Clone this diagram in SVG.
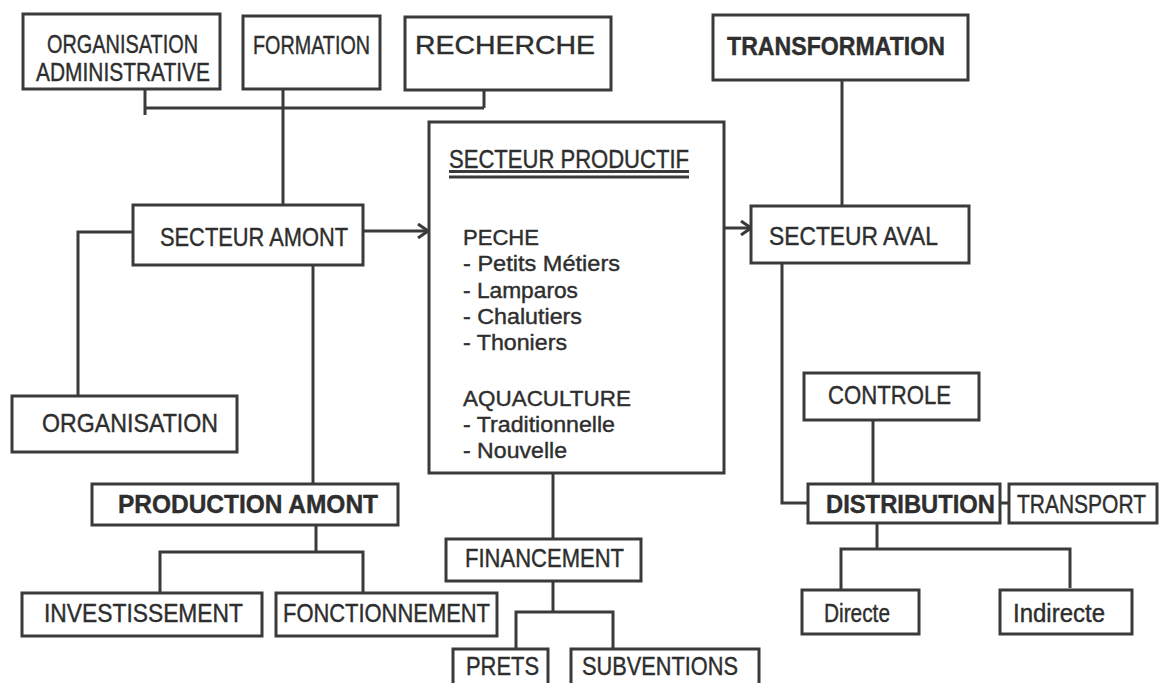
<svg xmlns="http://www.w3.org/2000/svg" width="1161" height="683" viewBox="0 0 1161 683">
<style>
.box{fill:#fff;stroke:#3a3a3a;stroke-width:3}
.ln{fill:none;stroke:#3a3a3a;stroke-width:3}
.t{font-family:"Liberation Sans",Arial,sans-serif;fill:#2e2e2e;stroke:#2e2e2e;stroke-width:0.4;font-size:25px}
.b{font-weight:bold}
.s{font-size:22px}
</style>
<defs>
<marker id="arr" viewBox="0 0 12 16" refX="11" refY="8" markerWidth="12" markerHeight="16" markerUnits="userSpaceOnUse" orient="auto">
<path d="M1,1 L11,8 L1,15" fill="none" stroke="#3a3a3a" stroke-width="3"/>
</marker>
</defs>
<rect width="1161" height="683" fill="#fff"/>
<g id="connectors">
<path class="ln" d="M145 89 V115 M145 108 H484 M484 90 V108 M283 89 V205"/>
<path class="ln" d="M842 80 V206"/>
<path class="ln" d="M133 232 H78 V396"/>
<path class="ln" d="M313 265 V484"/>
<path class="ln" d="M363 231 H428" marker-end="url(#arr)"/>
<path class="ln" d="M724 228 H751" marker-end="url(#arr)"/>
<path class="ln" d="M316 525 V552 M160 593 V552 H363 V593"/>
<path class="ln" d="M553 473 V539"/>
<path class="ln" d="M553 581 V612 M516 649 V612 H613 V649"/>
<path class="ln" d="M782 263 V503 H808"/>
<path class="ln" d="M873 420 V484"/>
<path class="ln" d="M1000 503 H1009"/>
<path class="ln" d="M877 523 V549 M841 590 V549 H1070 V588"/>
</g>
<g id="org-admin"><rect class="box" x="23" y="14" width="197" height="75"/>
<text class="t" x="47" y="53" font-size="23" textLength="151" lengthAdjust="spacingAndGlyphs">ORGANISATION</text>
<text class="t" x="36" y="81" textLength="174" lengthAdjust="spacingAndGlyphs">ADMINISTRATIVE</text></g>
<g id="formation"><rect class="box" x="243" y="16" width="137" height="73"/>
<text class="t" x="253" y="54" textLength="117" lengthAdjust="spacingAndGlyphs">FORMATION</text></g>
<g id="recherche"><rect class="box" x="405" y="17" width="206" height="73"/>
<text class="t" x="415" y="54" textLength="180" lengthAdjust="spacingAndGlyphs">RECHERCHE</text></g>
<g id="transformation"><rect class="box" x="713" y="15" width="255" height="65"/>
<text class="t b" x="727" y="55" textLength="218" lengthAdjust="spacingAndGlyphs">TRANSFORMATION</text></g>
<g id="secteur-amont"><rect class="box" x="133" y="205" width="230" height="60"/>
<text class="t" x="160" y="246" font-size="26" textLength="188" lengthAdjust="spacingAndGlyphs">SECTEUR AMONT</text></g>
<g id="organisation"><rect class="box" x="12" y="396" width="225" height="56"/>
<text class="t" x="42" y="432" textLength="176" lengthAdjust="spacingAndGlyphs">ORGANISATION</text></g>
<g id="secteur-productif"><rect class="box" x="429" y="122" width="295" height="351"/>
<text class="t" x="449" y="168" font-size="23" textLength="240" lengthAdjust="spacingAndGlyphs">SECTEUR PRODUCTIF</text>
<path class="ln" d="M449 171.5 H689 M449 177 H689" stroke-width="2.5"/>
<text class="t s" x="463" y="245" textLength="76" lengthAdjust="spacingAndGlyphs">PECHE</text>
<text class="t s" x="463" y="271" textLength="157" lengthAdjust="spacingAndGlyphs">- Petits Métiers</text>
<text class="t s" x="463" y="298" textLength="115" lengthAdjust="spacingAndGlyphs">- Lamparos</text>
<text class="t s" x="463" y="324" textLength="119" lengthAdjust="spacingAndGlyphs">- Chalutiers</text>
<text class="t s" x="463" y="350" textLength="104" lengthAdjust="spacingAndGlyphs">- Thoniers</text>
<text class="t s" x="463" y="406" textLength="168" lengthAdjust="spacingAndGlyphs">AQUACULTURE</text>
<text class="t s" x="463" y="432" textLength="152" lengthAdjust="spacingAndGlyphs">- Traditionnelle</text>
<text class="t s" x="463" y="458" textLength="104" lengthAdjust="spacingAndGlyphs">- Nouvelle</text></g>
<g id="secteur-aval"><rect class="box" x="751" y="206" width="218" height="57"/>
<text class="t" x="769" y="245" textLength="169" lengthAdjust="spacingAndGlyphs">SECTEUR AVAL</text></g>
<g id="controle"><rect class="box" x="804" y="373" width="175" height="47"/>
<text class="t" x="828" y="404" font-size="24" textLength="123" lengthAdjust="spacingAndGlyphs">CONTROLE</text></g>
<g id="production-amont"><rect class="box" x="92" y="484" width="306" height="41"/>
<text class="t b" x="118" y="513" textLength="260" lengthAdjust="spacingAndGlyphs">PRODUCTION AMONT</text></g>
<g id="distribution"><rect class="box" x="808" y="484" width="192" height="39"/>
<text class="t b" x="826" y="513" textLength="169" lengthAdjust="spacingAndGlyphs">DISTRIBUTION</text></g>
<g id="transport"><rect class="box" x="1009" y="484" width="148" height="39"/>
<text class="t" x="1017" y="513" font-size="21" textLength="129" lengthAdjust="spacingAndGlyphs">TRANSPORT</text></g>
<g id="investissement"><rect class="box" x="22" y="593" width="240" height="43"/>
<text class="t" x="44" y="622" textLength="199" lengthAdjust="spacingAndGlyphs">INVESTISSEMENT</text></g>
<g id="fonctionnement"><rect class="box" x="276" y="593" width="221" height="43"/>
<text class="t" x="283" y="622" textLength="207" lengthAdjust="spacingAndGlyphs">FONCTIONNEMENT</text></g>
<g id="financement"><rect class="box" x="446" y="539" width="195" height="42"/>
<text class="t" x="465" y="567" font-size="24" textLength="159" lengthAdjust="spacingAndGlyphs">FINANCEMENT</text></g>
<g id="prets"><rect class="box" x="453" y="649" width="95" height="45"/>
<text class="t" x="466" y="675" textLength="73" lengthAdjust="spacingAndGlyphs">PRETS</text></g>
<g id="subventions"><rect class="box" x="571" y="649" width="188" height="45"/>
<text class="t" x="582" y="675" textLength="156" lengthAdjust="spacingAndGlyphs">SUBVENTIONS</text></g>
<g id="directe"><rect class="box" x="802" y="590" width="117" height="44"/>
<text class="t" x="824" y="622" font-size="21" textLength="66" lengthAdjust="spacingAndGlyphs">Directe</text></g>
<g id="indirecte"><rect class="box" x="1000" y="590" width="132" height="44"/>
<text class="t" x="1013" y="622" font-size="22" textLength="92" lengthAdjust="spacingAndGlyphs">Indirecte</text></g>
</svg>
